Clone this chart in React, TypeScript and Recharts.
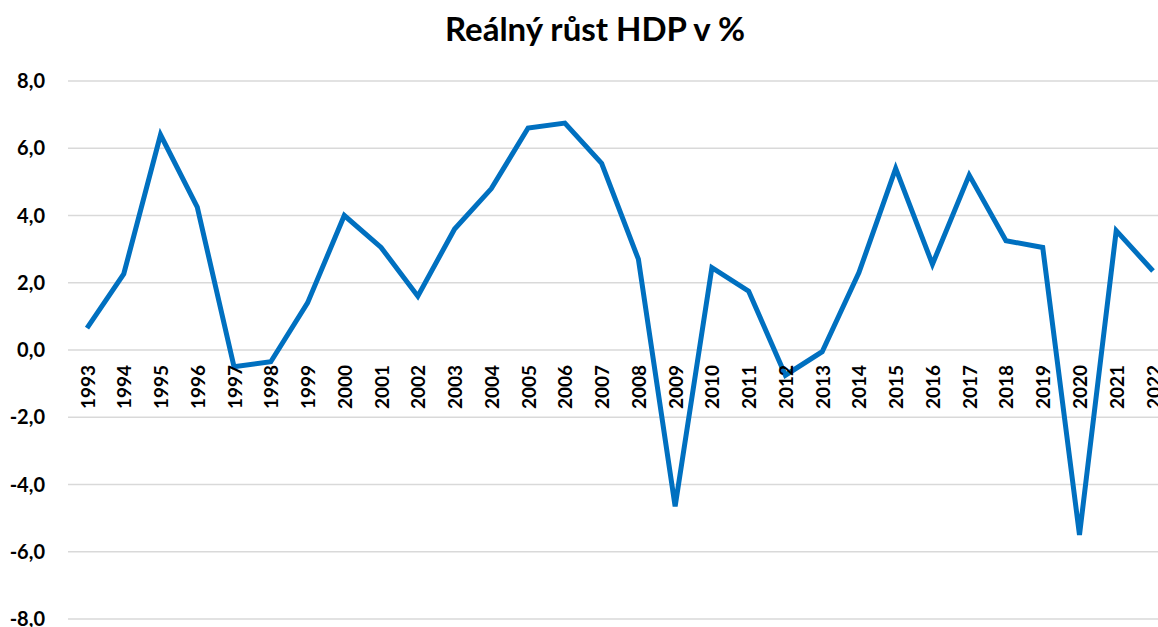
import { LineChart, Line, XAxis, YAxis, CartesianGrid } from "recharts"

const years = [
  "1993", "1994", "1995", "1996", "1997", "1998", "1999", "2000", "2001", "2002",
  "2003", "2004", "2005", "2006", "2007", "2008", "2009", "2010", "2011", "2012",
  "2013", "2014", "2015", "2016", "2017", "2018", "2019", "2020", "2021", "2022",
]

const growth = [
  0.65, 2.26, 6.4, 4.25, -0.5, -0.35, 1.4, 4.0, 3.05, 1.6,
  3.6, 4.8, 6.6, 6.75, 5.55, 2.7, -4.65, 2.45, 1.75, -0.75,
  -0.05, 2.3, 5.4, 2.55, 5.2, 3.25, 3.05, -5.5, 3.55, 2.35,
]

const yTicks = [-8, -6, -4, -2, 0, 2, 4, 6, 8]

const data = years.map((year, i) => ({ year, value: growth[i] }))

const W = 1158
const H = 627
const TOP = 81
const BOTTOM = 8
const FONT = "Lato, 'Open Sans', sans-serif"

// y position of the zero line, where Excel puts the category labels
const zeroY = TOP + (H - TOP - BOTTOM) / 2

function YearTick({ x, payload }: any) {
  const y = zeroY + 15
  return (
    <text
      x={x}
      y={y}
      transform={`rotate(-90, ${x}, ${y})`}
      textAnchor="end"
      dominantBaseline="central"
      fontFamily={FONT}
      fontWeight={700}
      fontSize={19}
      fill="#000"
    >
      {payload.value}
    </text>
  )
}

export default function App() {
  return (
    <div style={{ position: "fixed", left: 0, top: 0, width: W, height: H, background: "#fff" }}>
      <div
        style={{
          position: "absolute",
          left: 595 - 300,
          top: 7,
          width: 600,
          textAlign: "center",
          fontFamily: FONT,
          fontWeight: 700,
          fontSize: 33,
          lineHeight: "42px",
          color: "#000",
        }}
      >
        Reálný růst HDP v %
      </div>
      <LineChart width={W} height={H} data={data} margin={{ top: TOP, right: 0, bottom: BOTTOM - 1, left: 0 }}>
        <CartesianGrid vertical={false} stroke="#D9D9D9" strokeWidth={1.5} />
        <XAxis
          dataKey="year"
          height={1}
          axisLine={false}
          tickLine={false}
          interval={0}
          padding={{ left: 19, right: 5 }}
          tick={<YearTick />}
        />
        <YAxis
          width={68}
          domain={[-8, 8]}
          ticks={yTicks}
          interval={0}
          axisLine={false}
          tickLine={false}
          tickMargin={17}
          tickFormatter={(v: number) => v.toFixed(1).replace(".", ",")}
          tick={{ fill: "#000", fontSize: 20, fontWeight: 700, fontFamily: FONT }}
        />
        <Line
          type="linear"
          dataKey="value"
          stroke="#0070C0"
          strokeWidth={5}
          dot={false}
          isAnimationActive={false}
        />
      </LineChart>
    </div>
  )
}
